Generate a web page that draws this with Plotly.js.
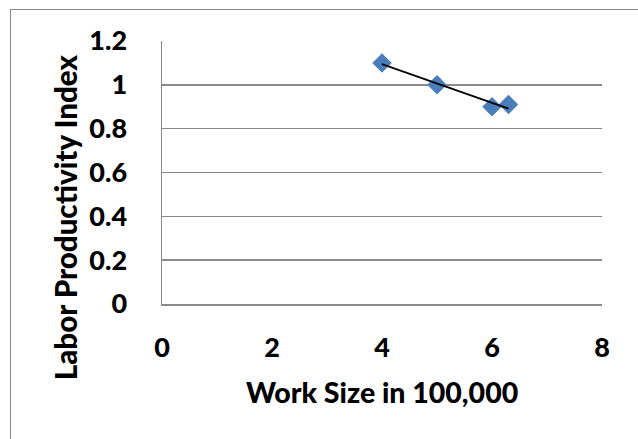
<!DOCTYPE html>
<html>
<head>
<meta charset="utf-8">
<script src="https://cdn.plot.ly/plotly-3.0.1.min.js"></script>
<style>
  html, body { margin: 0; padding: 0; background: #fff; }
  #chart { width: 638px; height: 439px; position: absolute; left: 0; top: 0; }
  #frame { position: absolute; left: 10px; top: 9px; width: 700px; height: 500px;
           border-left: 1.5px solid #8a8a8a; border-top: 1.5px solid #8a8a8a; pointer-events: none; }
</style>
</head>
<body>
<div id="chart"></div>
<div id="frame"></div>
<script>
// Data
const workSize = [4, 5, 6, 6.3];          // Work Size in 100,000
const productivity = [1.1, 1.0, 0.9, 0.91]; // Labor Productivity Index
const xTicks = [0, 2, 4, 6, 8];
const yTicks = [0, 0.2, 0.4, 0.6, 0.8, 1, 1.2];
const yTickText = ['0', '0.2', '0.4', '0.6', '0.8', '1', '1.2'];

// Linear trendline (least squares) from the data
const n = workSize.length;
const mx = workSize.reduce((a, b) => a + b, 0) / n;
const my = productivity.reduce((a, b) => a + b, 0) / n;
let sxy = 0, sxx = 0;
for (let i = 0; i < n; i++) { sxy += (workSize[i] - mx) * (productivity[i] - my); sxx += (workSize[i] - mx) ** 2; }
const slope = sxy / sxx, intercept = my - slope * mx;
const tx = [Math.min(...workSize), Math.max(...workSize)];
const ty = tx.map(x => intercept + slope * x);

const font = 'Lato, "Open Sans", sans-serif';
const grey = '#8a8a8a';

const data = [
  { x: workSize, y: productivity, type: 'scatter', mode: 'markers',
    marker: { symbol: 'diamond', size: 15, color: '#4a7ebb' }, hoverinfo: 'x+y' },
  { x: tx, y: ty, type: 'scatter', mode: 'lines',
    line: { color: '#000000', width: 1.8 }, hoverinfo: 'skip' }
];

const layout = {
  width: 638, height: 439,
  margin: { l: 162, r: 36, t: 41, b: 135 },
  paper_bgcolor: '#ffffff', plot_bgcolor: '#ffffff',
  showlegend: false,
  font: { family: font, color: '#000000' },
  xaxis: {
    range: [0, 8], tickvals: xTicks, ticktext: xTicks.map(String),
    showgrid: false, zeroline: false,
    showline: true, linecolor: grey, linewidth: 1.5,
    ticks: 'outside', ticklen: 19, tickcolor: 'rgba(0,0,0,0)',
    tickfont: { family: font, size: 27, color: '#000', weight: 900 }
  },
  yaxis: {
    range: [0, 1.2], tickvals: yTicks, ticktext: yTickText,
    showgrid: true, gridcolor: grey, gridwidth: 1.5, zeroline: false,
    showline: true, linecolor: grey, linewidth: 1.5,
    ticks: 'outside', ticklen: 28, tickcolor: 'rgba(0,0,0,0)',
    tickfont: { family: font, size: 27, color: '#000', weight: 900 }
  },
  annotations: [
    { text: 'Work Size in 100,000', xref: 'paper', yref: 'paper',
      x: 0.5, y: -0.335, xanchor: 'center', yanchor: 'middle', showarrow: false,
      font: { family: font, size: 28.5, color: '#000', weight: 900 } },
    { text: 'Labor Productivity Index', xref: 'paper', yref: 'paper',
      x: -0.2205, y: 0.33, xanchor: 'center', yanchor: 'middle', showarrow: false,
      textangle: -90,
      font: { family: font, size: 29.5, color: '#000', weight: 900 } }
  ]
};

Plotly.newPlot('chart', data, layout, { displayModeBar: false, staticPlot: true });
</script>
</body>
</html>
